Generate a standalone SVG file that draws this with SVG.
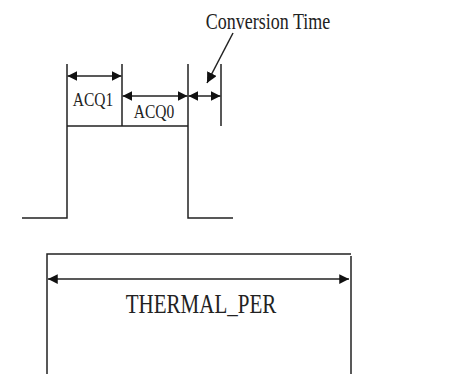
<svg xmlns="http://www.w3.org/2000/svg" width="450" height="374" viewBox="0 0 450 374">
<style>
.ln{stroke:#222;stroke-width:1.5;fill:none}
.ar{stroke:#222;stroke-width:1.5;fill:none;marker-start:url(#ah);marker-end:url(#ah)}
.tx{font-family:"Liberation Serif","Times New Roman",serif;fill:#222;text-anchor:middle}
</style>
<defs>
<marker id="ah" viewBox="0 0 10 10" refX="10" refY="5" markerWidth="6.5" markerHeight="6.5" orient="auto-start-reverse" markerUnits="strokeWidth">
<path d="M0,0 L10,5 L0,10 z" fill="#111"/>
</marker>
<marker id="ah1" viewBox="0 0 10 10" refX="10" refY="5" markerWidth="7.5" markerHeight="7" orient="auto" markerUnits="strokeWidth">
<path d="M0,0 L10,5 L0,10 z" fill="#111"/>
</marker>
</defs>
<rect width="450" height="374" fill="#fff"/>
<g id="waveform">
<path class="ln" d="M22,218 H67 V64 M67,126 H188 M122,64 V126 M188,64 V218 H233 M221,64 V126"/>
</g>
<g id="thermal-box">
<path class="ln" d="M47,374 V254 H351"/>
<path class="ln" d="M351,256 V374" stroke="#555"/>
</g>
<g id="connectors">
<line class="ar" x1="67.5" y1="76" x2="121.5" y2="76"/>
<line class="ar" x1="122.5" y1="96" x2="187.5" y2="96"/>
<line class="ar" x1="188.5" y1="96" x2="220.5" y2="96"/>
<line class="ar" x1="48" y1="279" x2="349" y2="279" stroke="#444"/>
<line class="ln" x1="233" y1="33" x2="207" y2="83" style="marker-end:url(#ah1)"/>
</g>
<g id="labels">
<text class="tx" transform="translate(93,106) scale(1,1.25)" font-size="15.5">ACQ1</text>
<text class="tx" transform="translate(154,118) scale(1,1.25)" font-size="15.5">ACQ0</text>
<text class="tx" transform="translate(268,29) scale(1,1.25)" font-size="18">Conversion Time</text>
<text class="tx" transform="translate(201,313) scale(1,1.25)" font-size="21">THERMAL_PER</text>
</g>
</svg>
